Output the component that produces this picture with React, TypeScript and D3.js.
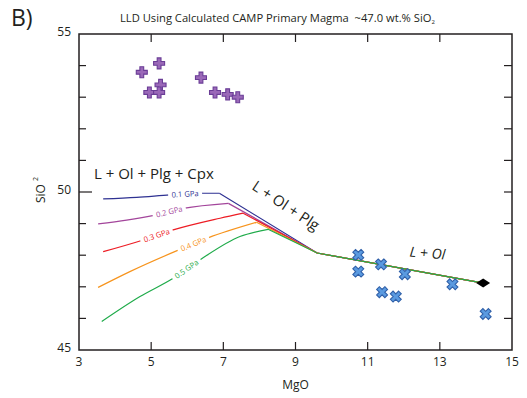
import React from "react";
import * as d3 from "d3";

// ---- data ----
const gpaLabels = ["0.1 GPa", "0.2 GPa", "0.3 GPa", "0.4 GPa", "0.5 GPa"];
const lineColors = ["#2e3192", "#a3459b", "#ed1c24", "#f7941d", "#1fab4a"];
const headMgO = [
  [3.67, 4.6, 5.52, 6.3, 6.89],
  [3.53, 4.32, 5.11, 5.89, 7.14],
  [3.67, 4.78, 5.61, 6.91, 7.55],
  [3.53, 4.41, 5.75, 6.58, 7.92],
  [3.63, 4.69, 5.61, 6.35, 7.46, 8.24],
];
const headSiO2 = [
  [49.78, 49.83, 49.91, 49.96, 49.96],
  [48.99, 49.11, 49.27, 49.48, 49.64],
  [48.11, 48.48, 48.8, 49.17, 49.33],
  [46.98, 47.48, 48.16, 48.55, 49.04],
  [45.9, 46.69, 47.27, 47.85, 48.59, 48.82],
];
const tailMgO = [9.6, 14.13];
const tailSiO2 = [48.07, 47.13];
const labelMgO = [5.94, 5.5, 5.15, 6.17, 5.98];

const plusMgO = [4.74, 5.22, 5.26, 4.95, 5.22, 6.38, 6.77, 7.12, 7.4];
const plusSiO2 = [53.79, 54.07, 53.39, 53.15, 53.15, 53.62, 53.15, 53.09, 53.0];
const crossMgO = [10.74, 10.74, 11.37, 12.03, 11.4, 11.78, 13.35, 14.27];
const crossSiO2 = [48.01, 47.48, 47.71, 47.4, 46.83, 46.69, 47.08, 46.14];
const primaryMgO = [14.2];
const primarySiO2 = [47.12];

const xTicks = [3, 5, 7, 9, 11, 13, 15];
const yTicks = [45, 46, 47, 48, 49, 50, 51, 52, 53, 54, 55];
const yLabels = [45, 50, 55];

const W = 527, H = 398;
const x = d3.scaleLinear().domain([3, 15]).range([79, 512]);
const y = d3.scaleLinear().domain([45, 55]).range([350, 34]);
const FONT = "'Open Sans', 'Noto Sans', sans-serif";
const AX = "#231f20";

function interpAt(xs: number[], ys: number[], xv: number) {
  for (let i = 0; i < xs.length - 1; i++) {
    if (xv >= xs[i] && xv <= xs[i + 1]) {
      const t = (xv - xs[i]) / (xs[i + 1] - xs[i]);
      const yv = ys[i] + t * (ys[i + 1] - ys[i]);
      const ang = (Math.atan2(y(ys[i + 1]) - y(ys[i]), x(xs[i + 1]) - x(xs[i])) * 180) / Math.PI;
      return { yv, ang };
    }
  }
  return { yv: ys[0], ang: 0 };
}

export default function App() {
  const smooth = d3
    .line<[number, number]>()
    .x((d) => x(d[0]))
    .y((d) => y(d[1]))
    .curve(d3.curveMonotoneX);
  const straight = d3
    .line<[number, number]>()
    .x((d) => x(d[0]))
    .y((d) => y(d[1]));

  const series = headMgO.map((xs, i) => {
    const head = xs.map((v, j) => [v, headSiO2[i][j]] as [number, number]);
    const tail = [head[head.length - 1], ...tailMgO.map((v, j) => [v, tailSiO2[j]] as [number, number])];
    return { mx: xs, sy: headSiO2[i], head, tail };
  });

  const plusPath = (s: number, w: number) =>
    `M${-w},${-s}H${w}V${-w}H${s}V${w}H${w}V${s}H${-w}V${w}H${-s}V${-w}H${-w}Z`;

  return (
    <svg
      width={W}
      height={H}
      style={{ position: "absolute", left: 0, top: 0, background: "#fff" }}
      fontFamily={FONT}
    >
      <rect width={W} height={H} fill="#fff" />
      <text x={11} y={26} fontSize={23} fill={AX}>B)</text>
      <text x={120} y={22} fontSize={11.2} fill={AX}>
        LLD Using Calculated CAMP Primary Magma{"\u00a0\u00a0"}~47.0 wt.% SiO
        <tspan fontSize={6} dy={2}>2</tspan>
      </text>

      {/* curves */}
      {series.map((s, i) => (
        <g key={i} fill="none" stroke={lineColors[i]} strokeWidth={1.2}>
          <path d={smooth(s.head) || ""} />
          <path d={straight(s.tail) || ""} />
        </g>
      ))}
      {/* inline labels */}
      {series.map((s, i) => {
        const { yv, ang } = interpAt(s.mx, s.sy, labelMgO[i]);
        const px = x(labelMgO[i]);
        const py = y(yv);
        return (
          <g key={"l" + i} transform={`translate(${px},${py}) rotate(${ang})`}>
            <rect x={-17} y={-4} width={34} height={8} fill="#fff" />
            <text x={0} y={2.7} fontSize={7.6} textAnchor="middle" fill={lineColors[i]}>
              {gpaLabels[i]}
            </text>
          </g>
        );
      })}

      {/* purple plus markers */}
      {plusMgO.map((v, i) => (
        <path
          key={"p" + i}
          d={plusPath(5.5, 1.9)}
          transform={`translate(${x(v)},${y(plusSiO2[i])})`}
          fill="#9a68b8"
          stroke="#6a3d96"
          strokeWidth={1.1}
        />
      ))}
      {/* blue cross markers */}
      {crossMgO.map((v, i) => (
        <path
          key={"c" + i}
          d={plusPath(5.8, 1.9)}
          transform={`translate(${x(v)},${y(crossSiO2[i])}) rotate(45)`}
          fill="#5a9ae0"
          stroke="#2f5fa8"
          strokeWidth={1.1}
        />
      ))}
      {/* primary magma diamond */}
      {primaryMgO.map((v, i) => (
        <path
          key={"d" + i}
          d="M-7,0L0,-4.5L7,0L0,4.5Z"
          transform={`translate(${x(v)},${y(primarySiO2[i])})`}
          fill="#000"
        />
      ))}

      {/* field labels */}
      <text x={94} y={179} fontSize={15} fill={AX}>L + Ol + Plg + Cpx</text>
      <text
        fontSize={15}
        fill={AX}
        textAnchor="middle"
        transform={`translate(283,210) rotate(33.5)`}
      >
        L + Ol + Plg
      </text>
      <text
        fontSize={14}
        fill={AX}
        fontStyle="italic"
        textAnchor="middle"
        transform={`translate(427,258) rotate(5)`}
      >
        L + Ol
      </text>

      {/* axes frame */}
      <rect
        x={x(3)}
        y={y(55)}
        width={x(15) - x(3)}
        height={y(45) - y(55)}
        fill="none"
        stroke={AX}
        strokeWidth={1.5}
      />
      {xTicks.slice(1, -1).map((t) => (
        <g key={"xt" + t}>
          <line x1={x(t)} x2={x(t)} y1={y(45)} y2={y(45) - 8} stroke={AX} strokeWidth={1.2} />
          <line x1={x(t)} x2={x(t)} y1={y(55)} y2={y(55) + 8} stroke={AX} strokeWidth={1.2} />
        </g>
      ))}
      {yTicks.slice(1, -1).map((t) => (
        <g key={"yt" + t}>
          <line x1={x(3)} x2={x(3) + (t === 50 ? 13 : 7)} y1={y(t)} y2={y(t)} stroke={AX} strokeWidth={1.2} />
          <line x1={x(15)} x2={x(15) - 8} y1={y(t)} y2={y(t)} stroke={AX} strokeWidth={1.2} />
        </g>
      ))}
      {xTicks.map((t) => (
        <text key={"xl" + t} x={x(t)} y={366} fontSize={12} textAnchor="middle" fill={AX}>
          {t}
        </text>
      ))}
      {yLabels.map((t) => (
        <text key={"yl" + t} x={71} y={y(t) + 2} fontSize={12} textAnchor="end" fill={AX}>
          {t}
        </text>
      ))}
      <text x={x(9)} y={389} fontSize={12} textAnchor="middle" fill={AX}>MgO</text>
      <text transform="translate(45,190) rotate(-90)" fontSize={12} textAnchor="middle" fill={AX}>
        SiO<tspan fontSize={7} dx={3} dy={-7}>2</tspan>
      </text>
    </svg>
  );
}
